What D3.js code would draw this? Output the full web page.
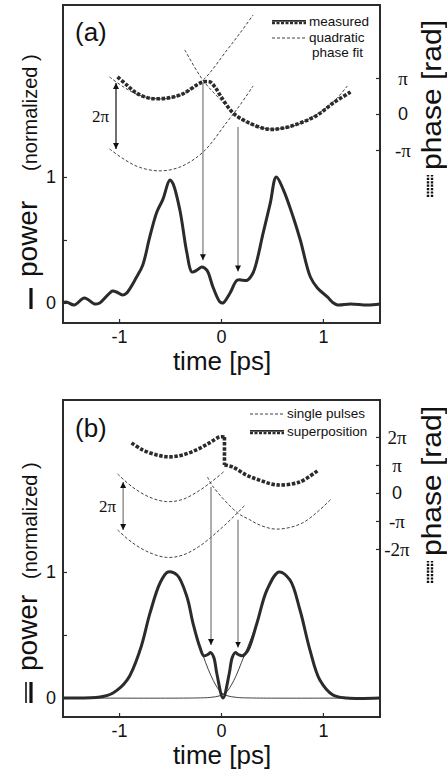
<!DOCTYPE html>
<html>
<head>
<meta charset="utf-8">
<script src="https://cdn.jsdelivr.net/npm/d3@7"></script>
<style>
body { margin: 0; background: #fff; }
svg { display: block; }
</style>
</head>
<body>
<svg id="chart" width="447" height="771"></svg>
<script>
// ticks (time in ps, power normalized, phase in units of pi)
var timeTicks = [-1, 0, 1];
var powerTicks = [0, 0.5, 1];
var powerTickLabels = ["0", "", "1"];
var phaseTicksA = [-1, 0, 1];
var phaseLabelsA = ["-π", "0", "π"];
var phaseTicksB = [-2, -1, 0, 1, 2];
var phaseLabelsB = ["-2π", "-π", "0", "π", "2π"];

// (a) measured power [t, P]
var powerMeasured = [
    [-1.557, 0], [-1.517, 0.008], [-1.438, -0.016], [-1.34, 0.04], [-1.241, -0.008],
    [-1.19, 0], [-1.064, 0.095], [-1.025, 0.087], [-0.966, 0.063], [-0.926, 0.079],
    [-0.828, 0.206], [-0.768, 0.30], [-0.70, 0.52], [-0.63, 0.72], [-0.571, 0.82],
    [-0.502, 0.976], [-0.473, 0.95], [-0.404, 0.74], [-0.335, 0.40], [-0.286, 0.246],
    [-0.236, 0.26], [-0.187, 0.286], [-0.138, 0.26], [-0.079, 0.127], [-0.01, 0.008],
    [0.02, 0], [0.089, 0.079], [0.158, 0.18], [0.217, 0.18], [0.256, 0.18],
    [0.315, 0.24], [0.414, 0.556], [0.483, 0.79], [0.542, 1.0], [0.611, 0.90],
    [0.709, 0.68], [0.778, 0.50], [0.877, 0.206], [0.946, 0.119], [1.044, 0.048],
    [1.103, 0], [1.143, -0.016], [1.271, -0.008], [1.438, -0.016], [1.56, -0.008]
];
// (a) measured phase [t, phase/pi]
var phaseMeasured = [
    [-1.015, 1.03], [-0.926, 0.81], [-0.828, 0.58], [-0.70, 0.44], [-0.532, 0.44],
    [-0.374, 0.56], [-0.236, 0.81], [-0.177, 0.89], [-0.108, 0.89], [-0.059, 0.75],
    [0.01, 0.44], [0.118, 0.03], [0.256, -0.22], [0.453, -0.42], [0.611, -0.39],
    [0.778, -0.25], [0.946, -0.03], [1.103, 0.31], [1.271, 0.61]
];
// (a) quadratic phase fits
var fitLeftUpper = [
    [-1.094, 1.03], [-0.95, 0.74], [-0.8, 0.52], [-0.6, 0.42], [-0.4, 0.52],
    [-0.177, 0.94], [0.06, 1.78], [0.187, 2.25], [0.315, 2.75]
];
var fitLeftLower = [
    [-1.094, -0.97], [-0.95, -1.26], [-0.8, -1.48], [-0.6, -1.58], [-0.4, -1.47],
    [-0.177, -1.06], [0.06, -0.22], [0.187, 0.25], [0.315, 0.78]
];
var fitRight = [
    [-0.355, 1.78], [-0.177, 0.94], [0, 0.38], [0.138, -0.03], [0.3, -0.3],
    [0.5, -0.42], [0.7, -0.34], [0.9, -0.08], [1.1, 0.33], [1.24, 0.78]
];

// (b) simulated power
var powerSuper = [
    [-1.549, 0], [-1.186, 0.008], [-1.059, 0.04], [-0.92, 0.143], [-0.794, 0.38],
    [-0.696, 0.675], [-0.598, 0.913], [-0.52, 1.0], [-0.431, 0.976], [-0.333, 0.80],
    [-0.275, 0.595], [-0.206, 0.40], [-0.17, 0.335], [-0.13, 0.345], [-0.1, 0.36],
    [-0.07, 0.32], [-0.04, 0.19], [0.02, 0], [0.08, 0.19], [0.11, 0.32],
    [0.14, 0.36], [0.17, 0.345], [0.21, 0.335], [0.265, 0.38], [0.353, 0.595],
    [0.451, 0.857], [0.569, 1.0], [0.676, 0.937], [0.775, 0.698], [0.873, 0.38],
    [0.97, 0.143], [1.098, 0.024], [1.235, 0], [1.559, 0]
];
var powerSingle1 = [
    [-1.549, 0], [-1.186, 0.008], [-1.059, 0.04], [-0.92, 0.143], [-0.794, 0.38],
    [-0.696, 0.675], [-0.598, 0.913], [-0.52, 1.0], [-0.431, 0.976], [-0.333, 0.80],
    [-0.275, 0.6], [-0.206, 0.41], [-0.15, 0.28], [-0.1, 0.18], [-0.05, 0.1],
    [0, 0.045], [0.06, 0.018], [0.15, 0.005], [0.3, 0], [1.559, 0]
];
var powerSingle2 = [
    [-1.549, 0], [-0.25, 0], [-0.1, 0.005], [-0.01, 0.018], [0.05, 0.045],
    [0.1, 0.1], [0.15, 0.18], [0.2, 0.28], [0.265, 0.41], [0.353, 0.6],
    [0.451, 0.857], [0.569, 1.0], [0.676, 0.937], [0.775, 0.698], [0.873, 0.38],
    [0.97, 0.143], [1.098, 0.024], [1.235, 0], [1.559, 0]
];
// (b) simulated phase, superposition in two branches around the 2pi jump
var phaseSuperLeft = [
    [-0.877, 1.79], [-0.77, 1.54], [-0.632, 1.36], [-0.505, 1.29], [-0.377, 1.36],
    [-0.24, 1.54], [-0.113, 1.79], [-0.015, 2.0], [0.034, 2.0]
];
var phaseSuperRight = [
    [0.034, 1.0], [0.113, 0.93], [0.25, 0.64], [0.377, 0.46], [0.544, 0.29],
    [0.77, 0.39], [0.946, 0.79]
];
var phaseSingle1Upper = [
    [-1.015, 0.68], [-0.868, 0.21], [-0.701, -0.15], [-0.534, -0.31], [-0.377, -0.23],
    [-0.211, 0.09], [-0.093, 0.40], [0.034, 0.78]
];
var phaseSingle1Lower = [
    [-1.015, -1.32], [-0.868, -1.78], [-0.701, -2.13], [-0.534, -2.3], [-0.377, -2.22],
    [-0.211, -1.9], [-0.015, -1.32], [0.162, -0.71], [0.23, -0.45]
];
var phaseSingle2 = [
    [-0.132, 0.57], [-0.083, 0.25], [0.162, -0.71], [0.279, -0.95], [0.377, -1.14],
    [0.544, -1.29], [0.8, -1.07], [1.083, -0.21]
];

// annotations: [t, phase start, power end]
var arrowsA = [[-0.177, 0.89, 0.34], [0.167, -0.36, 0.25]];
var arrowsB = [[-0.098, 0.21, 0.42], [0.167, -0.96, 0.40]];
// 2pi bracket: [t, phase top, phase bottom]
var twoPiA = [-1.03, 0.86, -0.97];
var twoPiB = [-0.96, 0.39, -1.32];

var svg = d3.select("#chart");
var ink = "#2b2b2b";
var sans = "'Liberation Sans', Arial, sans-serif";
var serif = "'Liberation Serif', 'Times New Roman', serif";

var defs = svg.append("defs");
defs.append("marker")
    .attr("id", "head")
    .attr("viewBox", "0 0 10 10")
    .attr("refX", 10).attr("refY", 5)
    .attr("markerWidth", 6).attr("markerHeight", 9)
    .attr("markerUnits", "userSpaceOnUse")
    .attr("orient", "auto-start-reverse")
    .append("path")
    .attr("d", "M0,0 L10,5 L0,10 z")
    .attr("fill", "#111");

function drawPanel(cfg){
    var g = svg.append("g");
    var x = d3.scaleLinear().domain([-1.55, 1.56]).range([63, 380]);
    var yP = d3.scaleLinear().domain(cfg.powerDomain).range([cfg.bottom, cfg.top]);
    var yPh = d3.scaleLinear().domain(cfg.phaseDomain).range([cfg.bottom, cfg.top]);

    var powLine = d3.line()
        .x(function(d){ return x(d[0]); })
        .y(function(d){ return yP(d[1]); })
        .curve(d3.curveCatmullRom.alpha(0.5));
    var phLine = d3.line()
        .x(function(d){ return x(d[0]); })
        .y(function(d){ return yPh(d[1]); })
        .curve(d3.curveCatmullRom.alpha(0.5));

    // axes
    var xAxis = g.append("g")
        .attr("transform", "translate(0," + cfg.bottom + ")")
        .call(d3.axisBottom(x).tickValues(timeTicks).tickSize(-4).tickPadding(7)
            .tickFormat(function(d){ return d === 0 ? "0" : (d < 0 ? "-" : "") + Math.abs(d); }));
    var yAxis = g.append("g")
        .attr("transform", "translate(63,0)")
        .call(d3.axisLeft(yP).tickValues(powerTicks).tickSize(-4).tickPadding(7)
            .tickFormat(function(d, i){ return powerTickLabels[i]; }));
    var rAxis = g.append("g")
        .attr("transform", "translate(380,0)")
        .call(d3.axisRight(yPh).tickValues(cfg.phaseTicks).tickSize(-4)
            .tickFormat(function(d, i){ return cfg.phaseLabels[i]; }));
    [xAxis, yAxis, rAxis].forEach(function(a){
        a.select(".domain").remove();
        a.selectAll("line").attr("stroke", ink).attr("stroke-width", 1.2);
        a.selectAll("text").attr("fill", "#111").style("font-family", sans).style("font-size", "18px");
    });
    rAxis.selectAll("text")
        .attr("x", cfg.rightLabelX)
        .attr("text-anchor", "middle")
        .style("font-family", function(d){ return d === 0 ? sans : serif; })
        .style("font-size", function(d){ return d === 0 ? "18px" : "19px"; });

    // single-pulse power (thin) and phase fits (thin dashed)
    cfg.thinPower.forEach(function(s){
        g.append("path").attr("d", powLine(s))
            .attr("fill", "none").attr("stroke", ink).attr("stroke-width", 0.9);
    });
    cfg.thinPhase.forEach(function(s){
        g.append("path").attr("d", phLine(s))
            .attr("fill", "none").attr("stroke", ink).attr("stroke-width", 0.9)
            .attr("stroke-dasharray", "3,2");
    });

    // vertical arrows
    cfg.arrows.forEach(function(a){
        g.append("line")
            .attr("x1", x(a[0])).attr("x2", x(a[0]))
            .attr("y1", yPh(a[1])).attr("y2", yP(a[2]))
            .attr("stroke", "#777").attr("stroke-width", 1.2)
            .attr("marker-end", "url(#head)");
    });

    // 2pi arrow
    g.append("line")
        .attr("x1", x(cfg.twoPi[0])).attr("x2", x(cfg.twoPi[0]))
        .attr("y1", yPh(cfg.twoPi[1])).attr("y2", yPh(cfg.twoPi[2]))
        .attr("stroke", cfg.twoPiColor).attr("stroke-width", 1.2)
        .attr("marker-start", "url(#head)").attr("marker-end", "url(#head)");
    g.append("text")
        .attr("x", x(cfg.twoPi[0]) - 7)
        .attr("y", (yPh(cfg.twoPi[1]) + yPh(cfg.twoPi[2])) / 2 + 6)
        .attr("text-anchor", "end")
        .style("font-family", serif).style("font-size", "17px")
        .attr("fill", "#111")
        .text("2π");

    // main curves
    g.append("path").attr("d", powLine(cfg.power))
        .attr("fill", "none").attr("stroke", ink).attr("stroke-width", 3)
        .attr("stroke-linejoin", "round");
    cfg.phase.forEach(function(s, i){
        g.append("path").attr("d", phLine(s))
            .attr("fill", "none").attr("stroke", ink).attr("stroke-width", 3.6)
            .attr("stroke-dasharray", "3.5,1.6");
        // vertical 2pi jump between branches
        if(i > 0){
            var prev = cfg.phase[i - 1][cfg.phase[i - 1].length - 1];
            g.append("line")
                .attr("x1", x(prev[0])).attr("x2", x(s[0][0]))
                .attr("y1", yPh(prev[1])).attr("y2", yPh(s[0][1]))
                .attr("stroke", ink).attr("stroke-width", 3.6)
                .attr("stroke-dasharray", "3.5,1.6");
        }
    });

    // frame
    g.append("rect")
        .attr("x", 63).attr("y", cfg.top)
        .attr("width", 317).attr("height", cfg.bottom - cfg.top)
        .attr("fill", "none").attr("stroke", ink).attr("stroke-width", 2);

    // panel letter
    g.append("text")
        .attr("x", 75).attr("y", cfg.top + cfg.letterDy)
        .style("font-family", sans).style("font-size", "26px")
        .attr("fill", "#111").text(cfg.letter);

    // legend
    cfg.legend.forEach(function(item, i){
        var ly = cfg.top + cfg.legendY[i];
        if(item.thick){
            g.append("line").attr("x1", cfg.legendX).attr("x2", cfg.legendX + 34)
                .attr("y1", ly - 1.2).attr("y2", ly - 1.2)
                .attr("stroke", ink).attr("stroke-width", 1.8);
            g.append("line").attr("x1", cfg.legendX).attr("x2", cfg.legendX + 34)
                .attr("y1", ly + 1.2).attr("y2", ly + 1.2)
                .attr("stroke", ink).attr("stroke-width", 2.2)
                .attr("stroke-dasharray", "3,1.5");
        }
        else {
            g.append("line").attr("x1", cfg.legendX).attr("x2", cfg.legendX + 34)
                .attr("y1", ly).attr("y2", ly)
                .attr("stroke", ink).attr("stroke-width", 0.9)
                .attr("stroke-dasharray", "3,2");
        }
        item.text.forEach(function(t, j){
            g.append("text")
                .attr("x", cfg.legendX + 37 + (j > 0 ? 3 : 0))
                .attr("y", ly + 4 + j * 15)
                .style("font-family", sans).style("font-size", "13.5px")
                .attr("fill", "#111").text(t);
        });
    });

    // x label
    g.append("text")
        .attr("x", 222).attr("y", cfg.bottom + 47)
        .attr("text-anchor", "middle")
        .style("font-family", sans).style("font-size", "26px")
        .attr("fill", "#111").text("time [ps]");

    // left label (rotated)
    var lg = g.append("g").attr("transform", "translate(37," + cfg.bottom + ") rotate(-90)");
    lg.append("line").attr("x1", 14).attr("x2", 35).attr("y1", -6).attr("y2", -6)
        .attr("stroke", "#111").attr("stroke-width", 3.2);
    if(cfg.letter === "(b)"){
        lg.append("line").attr("x1", 14).attr("x2", 35).attr("y1", -11).attr("y2", -11)
            .attr("stroke", "#111").attr("stroke-width", 1.6);
    }
    lg.append("text").attr("x", 46).attr("y", 0)
        .style("font-family", sans).style("font-size", "28px")
        .attr("fill", "#111").text("power");
    lg.append("text").attr("x", cfg.normOffset).attr("y", 0)
        .style("font-family", sans).style("font-size", "20px")
        .attr("fill", "#111").text("(normalized )");

    // right label (rotated)
    var rg = g.append("g").attr("transform", "translate(441," + cfg.phaseLabelBase + ") rotate(-90)");
    [-13, -9].forEach(function(off){
        rg.append("line").attr("x1", -27).attr("x2", -5).attr("y1", off).attr("y2", off)
            .attr("stroke", "#111").attr("stroke-width", 2.4)
            .attr("stroke-dasharray", "2.2,1.2");
    });
    rg.append("text").attr("x", 0).attr("y", 0)
        .style("font-family", sans).style("font-size", "27px")
        .attr("textLength", 150).attr("lengthAdjust", "spacingAndGlyphs")
        .attr("fill", "#111").text("phase [rad]");
}

drawPanel({
    letter: "(a)", top: 5, bottom: 323, letterDy: 36,
    powerDomain: [-0.159, 2.365], phaseDomain: [-5.806, 3.028],
    phaseTicks: phaseTicksA, phaseLabels: phaseLabelsA, rightLabelX: 23,
    power: powerMeasured, phase: [phaseMeasured],
    thinPower: [], thinPhase: [fitLeftUpper, fitLeftLower, fitRight],
    arrows: arrowsA, twoPi: twoPiA, twoPiColor: "#111",
    legendX: 272, legendY: [17, 33],
    legend: [{thick: true, text: ["measured"]}, {thick: false, text: ["quadratic", "phase fit"]}],
    phaseLabelBase: 170, normOffset: 152
});

drawPanel({
    letter: "(b)", top: 400, bottom: 717, letterDy: 37,
    powerDomain: [-0.151, 2.365], phaseDomain: [-8.0, 3.32],
    phaseTicks: phaseTicksB, phaseLabels: phaseLabelsB, rightLabelX: 17,
    power: powerSuper, phase: [phaseSuperLeft, phaseSuperRight],
    thinPower: [powerSingle1, powerSingle2],
    thinPhase: [phaseSingle1Upper, phaseSingle1Lower, phaseSingle2],
    arrows: arrowsB, twoPi: twoPiB, twoPiColor: "#777",
    legendX: 250, legendY: [14, 32],
    legend: [{thick: false, text: ["single pulses"]}, {thick: true, text: ["superposition"]}],
    phaseLabelBase: 556, normOffset: 138
});
</script>
</body>
</html>
